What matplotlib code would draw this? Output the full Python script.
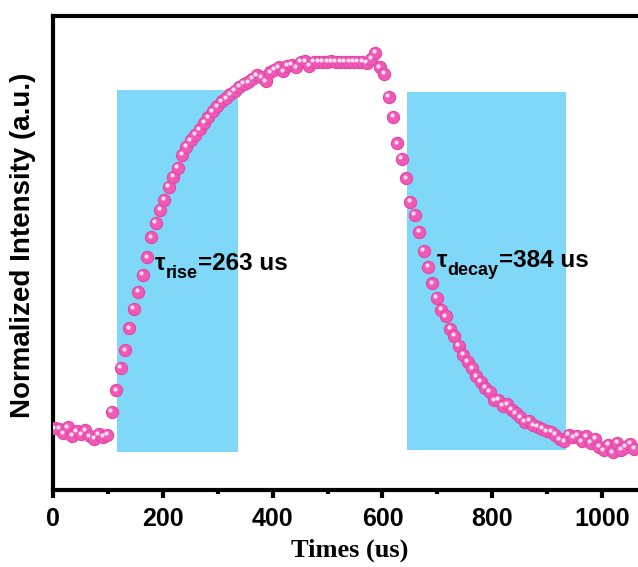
import matplotlib
matplotlib.use("Agg")
import matplotlib.pyplot as plt
import matplotlib.transforms as mtransforms
from matplotlib.patches import Rectangle
from matplotlib.ticker import MultipleLocator

times = [3, 11, 19, 27, 35, 43, 51, 59, 67, 75,
         83, 91, 99, 107, 115, 123, 131, 139, 147, 155,
         163, 171, 179, 187, 195, 203, 211, 219, 227, 235,
         243, 251, 259, 267, 275, 283, 291, 299, 307, 315,
         323, 331, 339, 347, 355, 363, 371, 379, 387, 395,
         403, 411, 419, 427, 435, 443, 451, 459, 467, 475,
         483, 491, 499, 507, 515, 523, 531, 539, 547, 555,
         563, 571, 579, 587, 595, 603, 611, 619, 627, 635,
         643, 651, 659, 667, 675, 683, 691, 699, 707, 715,
         723, 731, 739, 747, 755, 763, 771, 779, 787, 795,
         803, 811, 819, 827, 835, 843, 851, 859, 867, 875,
         883, 891, 899, 907, 915, 923, 931, 939, 947, 955,
         963, 971, 979, 987, 995, 1003, 1011, 1019, 1027, 1035,
         1043, 1051, 1059]

intensity = [0.010, 0.008, -0.004, 0.012, -0.010, 0.002, -0.006, 0.004, -0.012, -0.018,
             -0.006, -0.014, -0.008, 0.055, 0.112, 0.174, 0.220, 0.280, 0.332, 0.379,
             0.424, 0.472, 0.526, 0.565, 0.600, 0.627, 0.663, 0.690, 0.714, 0.749,
             0.770, 0.788, 0.803, 0.818, 0.836, 0.850, 0.866, 0.880, 0.893, 0.902,
             0.912, 0.922, 0.932, 0.940, 0.945, 0.955, 0.964, 0.958, 0.947, 0.972,
             0.978, 0.985, 0.975, 0.990, 0.992, 0.985, 1.000, 1.002, 0.990, 1.000,
             1.000, 1.000, 1.000, 1.002, 1.000, 1.000, 1.000, 1.000, 1.000, 1.000,
             1.000, 0.998, 1.008, 1.024, 0.985, 0.968, 0.905, 0.852, 0.780, 0.738,
             0.685, 0.622, 0.587, 0.540, 0.490, 0.446, 0.402, 0.362, 0.330, 0.312,
             0.278, 0.260, 0.233, 0.208, 0.190, 0.172, 0.150, 0.135, 0.120, 0.108,
             0.085, 0.086, 0.070, 0.075, 0.060, 0.050, 0.040, 0.028, 0.030, 0.018,
             0.014, 0.008, 0.002, 0.000, -0.008, -0.020, -0.025, -0.008, -0.015, -0.010,
             -0.025, -0.012, -0.030, -0.018, -0.040, -0.050, -0.035, -0.055, -0.030, -0.048,
             -0.040, -0.032, -0.045]

rise_box = (116, 336, -0.054, 0.924)
decay_box = (644, 935, -0.049, 0.919)
rise_sub, rise_value = "rise", "=263 us"
decay_sub, decay_value = "decay", "=384 us"
xticks = [0, 200, 400, 600, 800, 1000]

FONT = 'Liberation Sans'

fig = plt.figure(figsize=(6.38, 5.67), dpi=100)
ax = fig.add_axes([0.0831, 0.1358, 0.9467, 0.836])
ax.set_xlim(0, 1100)
ax.set_ylim(-0.157, 1.124)

box_color = '#80D8F8'
for (x0, x1, y0, y1) in (rise_box, decay_box):
    ax.add_patch(Rectangle((x0, y0), x1 - x0, y1 - y0, facecolor=box_color,
                           edgecolor='none', zorder=1))

ax.plot(times, intensity, linestyle='none', marker='o', markersize=8.8,
        markerfacecolor='#EE5AB5', markeredgecolor='#E446A8', markeredgewidth=0.8,
        zorder=3)
hl = mtransforms.offset_copy(ax.transData, fig=fig, x=-1.4, y=1.6, units='dots')
ax.plot(times, intensity, linestyle='none', marker='o', markersize=3.0,
        markerfacecolor='#FFE0F2', markeredgecolor='none', transform=hl, zorder=4)


def tau_label(x, y, sub, value):
    t1 = ax.text(x, y, '\u03c4', fontsize=17, fontfamily=FONT, fontweight='bold',
                 ha='left', va='baseline', zorder=5)
    t2 = ax.annotate(sub, xy=(1, y), xycoords=(t1, 'data'), xytext=(0.3, -5.8),
                     textcoords='offset points', fontsize=13, fontfamily=FONT,
                     fontweight='bold', ha='left', va='baseline', zorder=5)
    ax.annotate(value, xy=(1, y), xycoords=(t2, 'data'), xytext=(0, 0),
                textcoords='offset points', fontsize=17.5, fontfamily=FONT,
                fontweight='bold', ha='left', va='baseline', zorder=5)


tau_label(186, 0.438, rise_sub, rise_value)
tau_label(699, 0.446, decay_sub, decay_value)

for s in ax.spines.values():
    s.set_linewidth(3.0)
ax.spines['right'].set_visible(False)

ax.set_xticks(xticks)
ax.xaxis.set_minor_locator(MultipleLocator(100))
ax.tick_params(axis='x', which='major', direction='out', length=6, width=3,
               pad=6.5, labelsize=18)
ax.tick_params(axis='x', which='minor', direction='out', length=3, width=3)
ax.tick_params(axis='y', which='both', left=False, labelleft=False)
for lab in ax.get_xticklabels():
    lab.set_fontfamily(FONT)
    lab.set_fontweight('bold')

ax.set_xlabel('Times (us)', fontsize=19, fontfamily='Liberation Serif', fontweight='bold')
ax.xaxis.set_label_coords(0.492, -0.103)
ax.set_ylabel('Normalized Intensity (a.u.)', fontsize=20, fontfamily=FONT,
              fontweight='bold')
ax.yaxis.set_label_coords(-0.028, 0.517)

fig.savefig('out.png', dpi=100)
